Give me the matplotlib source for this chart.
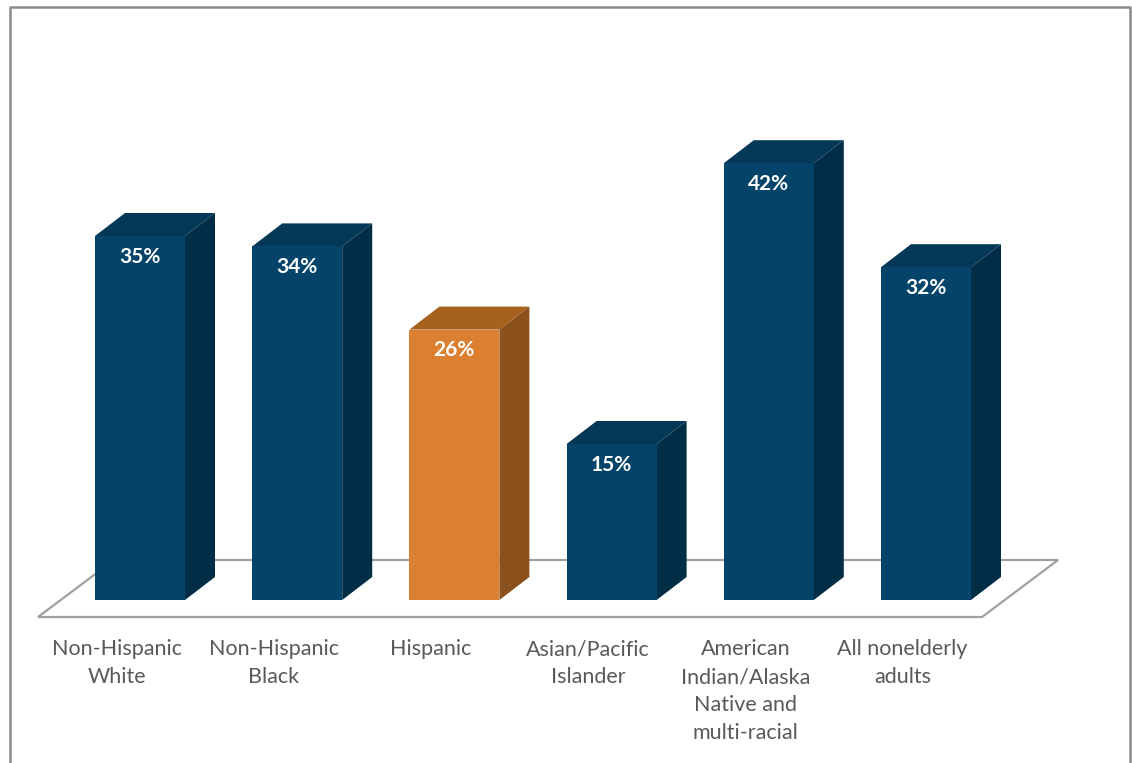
import matplotlib.pyplot as plt
from matplotlib.patches import Polygon, Rectangle

categories = ['Non-Hispanic\nWhite', 'Non-Hispanic\nBlack', 'Hispanic',
              'Asian/Pacific\nIslander', 'American\nIndian/Alaska\nNative and\nmulti-racial',
              'All nonelderly\nadults']
values = [35, 34, 26, 15, 42, 32]
highlight = 2

blue = ('#04446a', '#033856', '#022d46')    # front, top, side
orange = ('#db7f31', '#a6611f', '#8a511c')

W, H = 1132, 763
PX_X, PX_Y = 157.2, 10.4           # pixels per category / per percent
x0 = -140 / PX_X
y0 = -163 / PX_Y

fig = plt.figure(figsize=(W / 100, H / 100), dpi=100)
ax = fig.add_axes([0, 0, 1, 1])
ax.set_xlim(x0, x0 + W / PX_X)
ax.set_ylim(y0, y0 + H / PX_Y)
ax.axis('off')

bw = 90 / PX_X / 2
ddx, ddy = 30 / PX_X, 23 / PX_Y

# floor
fx0, fx1 = -102 / PX_X, 842 / PX_X
fy0, fy1 = -17 / PX_Y, 40 / PX_Y
fdx = 76 / PX_X
ax.add_patch(Polygon([(fx0, fy0), (fx1, fy0), (fx1 + fdx, fy1), (fx0 + fdx, fy1)],
                     closed=True, facecolor='white', edgecolor='#a0a0a0', lw=1.6))

lab_shift = -23.5 / PX_X
for i, v in enumerate(values):
    front, top, side = orange if i == highlight else blue
    l, r = i - bw, i + bw
    ax.add_patch(Polygon([(r, 0), (r + ddx, ddy), (r + ddx, v + ddy), (r, v)],
                         closed=True, facecolor=side, edgecolor='none'))
    ax.add_patch(Polygon([(l, v), (r, v), (r + ddx, v + ddy), (l + ddx, v + ddy)],
                         closed=True, facecolor=top, edgecolor='none'))
    ax.add_patch(Rectangle((l, 0), 2 * bw, v, facecolor=front, edgecolor='none'))
    ax.text(i, v - 2.0, f'{v}%', ha='center', va='center', color='white',
            fontsize=15, fontweight='bold', family='Lato')
    ax.text(i + lab_shift, -3.75, categories[i], ha='center', va='top', color='#595959',
            fontsize=15.5, family='Lato', linespacing=1.5)

# outer chart border
fig.add_artist(plt.Line2D([9.5 / W, 9.5 / W, 1129.5 / W, 1129.5 / W],
                          [0, 1 - 6.5 / H, 1 - 6.5 / H, 0],
                          transform=fig.transFigure, color='#8a8a8a', lw=1.8))

fig.savefig('out.png', dpi=100)
